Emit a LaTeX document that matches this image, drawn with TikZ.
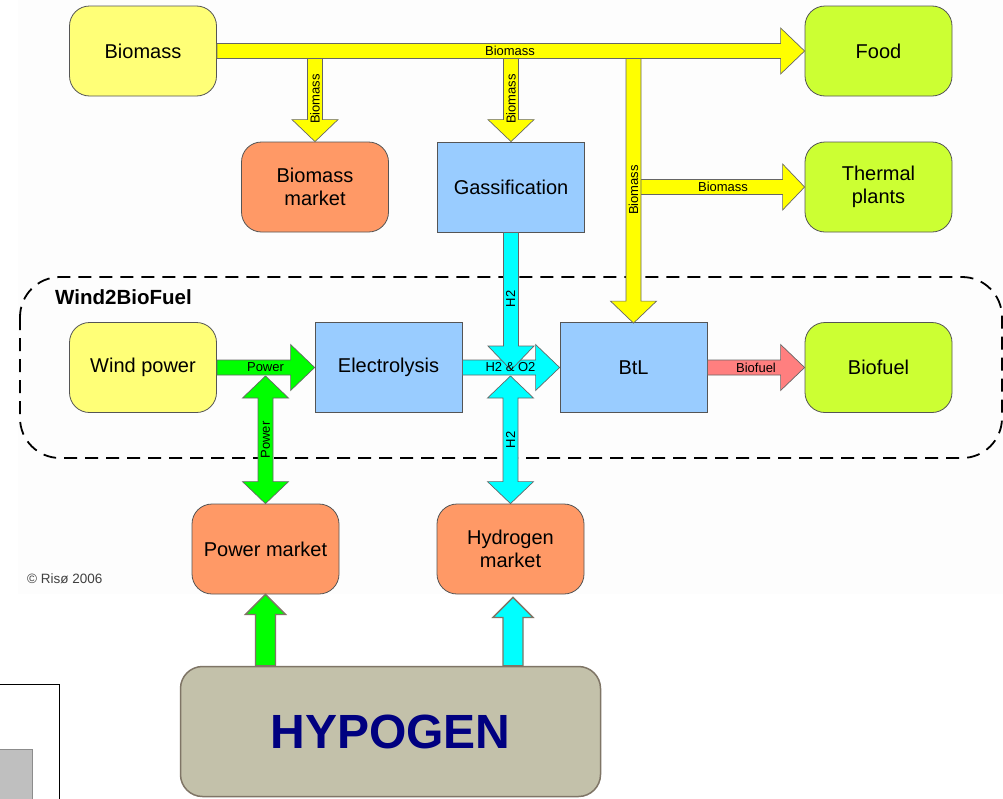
\documentclass[tikz,border=0pt]{standalone}
\usepackage{fontspec}
\setmainfont{Liberation Sans}
\usetikzlibrary{calc}
\definecolor{boxline}{HTML}{555555}
\definecolor{aline}{HTML}{666666}
\definecolor{yelbox}{HTML}{FFFF77}
\definecolor{limebox}{HTML}{CCFF33}
\definecolor{orgbox}{HTML}{FF9966}
\definecolor{bluebox}{HTML}{99CCFF}
\definecolor{yelarr}{HTML}{FFFF00}
\definecolor{grnarr}{HTML}{00FF00}
\definecolor{cyanarr}{HTML}{00FFFF}
\definecolor{pinkarr}{HTML}{FF7F7F}
\definecolor{hypfill}{HTML}{C3C1AA}
\definecolor{hypline}{HTML}{7F7566}
\definecolor{navy}{HTML}{000080}
\definecolor{bgtint}{HTML}{FDFDFD}
\newcommand\arsw{7.5pt}
\newcommand\arhw{23pt}
\newcommand\arhl{24pt}
\newcommand\barrow[3]{%
  \coordinate (ah) at ($(#3)!\arhl!(#2)$);
  \draw[#1] ($(#2)!\arsw!90:(#3)$) -- ($(ah)!\arsw!90:(#3)$) -- ($(ah)!\arhw!90:(#3)$) -- (#3) -- ($(ah)!\arhw!-90:(#3)$) -- ($(ah)!\arsw!-90:(#3)$) -- ($(#2)!\arsw!-90:(#3)$) -- cycle;}
\newcommand\dbarrow[3]{%
  \coordinate (aa) at ($(#2)!\arhl!(#3)$);
  \coordinate (ab) at ($(#3)!\arhl!(#2)$);
  \draw[#1] (#2) -- ($(aa)!\arhw!90:(#3)$) -- ($(aa)!\arsw!90:(#3)$) -- ($(ab)!\arsw!90:(#3)$) -- ($(ab)!\arhw!90:(#3)$) -- (#3) -- ($(ab)!\arhw!-90:(#3)$) -- ($(ab)!\arsw!-90:(#3)$) -- ($(aa)!\arsw!-90:(#3)$) -- ($(aa)!\arhw!-90:(#3)$) -- cycle;}
\tikzset{
  box/.style={draw=boxline, line width=0.8pt, minimum width=147pt, minimum height=90pt,
    align=center, inner sep=0pt, font=\fontsize{20}{23.5}\selectfont},
  rbox/.style={box, rounded corners=20pt},
  yarr/.style={fill=yelarr, draw=aline, line width=0.7pt},
  garr/.style={fill=grnarr, draw=aline, line width=0.7pt},
  carr/.style={fill=cyanarr, draw=aline, line width=0.7pt},
  parr/.style={fill=pinkarr, draw=aline, line width=0.7pt},
  lbl/.style={inner sep=0pt, font=\fontsize{13}{15}\selectfont},
}
\begin{document}
\begin{tikzpicture}[x=1pt, y=-1pt]
\useasboundingbox (0,0) rectangle (1003,798);
\fill[white] (0,0) rectangle (1003,798);
\fill[bgtint] (18,0) rectangle (1003,594);
% lower-left frame
\draw[black, line width=1pt] (-5,684) rectangle (59.5,805);
\filldraw[fill=black!25, draw=black!45, line width=0.8pt] (-5,749) rectangle (32,805);
% Wind2BioFuel region
\draw[line width=1.8pt, dash pattern=on 13pt off 8pt, rounded corners=40pt] (20,277) rectangle (1002,458);
\node[anchor=west, inner sep=0pt, font=\fontsize{20.5}{22}\selectfont\bfseries] (w2b) at (55,297) {Wind2BioFuel};
% boxes
\node[rbox, fill=yelbox] (bio) at (143,51) {Biomass};
\node[rbox, fill=limebox] (food) at (878.5,51) {Food};
\node[rbox, fill=orgbox] (bmarket) at (315,187) {Biomass\\market};
\node[box, fill=bluebox] (gas) at (511,187) {Gassification};
\node[rbox, fill=limebox] (thermal) at (878.5,187) {Thermal\\plants};
\node[rbox, fill=yelbox] (wind) at (143,367.5) {Wind power};
\node[box, fill=bluebox] (elec) at (388.5,367.5) {Electrolysis};
\node[box, fill=bluebox] (btl) at (633.5,367.5) {BtL};
\node[rbox, fill=limebox] (biofuel) at (878.5,367.5) {Biofuel};
\node[rbox, fill=orgbox] (pmarket) at (265.5,549) {Power market};
\node[rbox, fill=orgbox] (hmarket) at (510.5,549) {Hydrogen\\market};
\node[draw=hypline, line width=1.5pt, fill=hypfill, rounded corners=22pt, minimum width=420pt, minimum height=130pt,
  text=navy, font=\fontsize{48}{50}\selectfont\bfseries] (hyp) at (390.5,731.5) {HYPOGEN};
% copyright
\node[anchor=west, inner sep=0pt, text=black!75, font=\fontsize{13.5}{15}\selectfont] (copy) at (27,579) {© Risø 2006};
% biomass distribution
\coordinate (jm) at (bmarket.north |- bio.east);
\coordinate (jg) at (gas.north |- bio.east);
\coordinate (jb) at (btl.north |- bio.east);
\coordinate (jt) at (btl.north |- thermal.west);
\coordinate (jbe) at ($(btl.north)+(0,1)$);
\renewcommand\arhl{22pt}
\barrow{yarr}{jt}{thermal.west}
\barrow{yarr}{jb}{jbe}
\barrow{yarr}{jm}{bmarket.north}
\barrow{yarr}{jg}{gas.north}
\renewcommand\arhl{24pt}
\barrow{yarr}{bio.east}{food.west}
% power
\coordinate (pj) at (265.5,376);
\barrow{garr}{wind.east}{elec.west}
\renewcommand\arhl{22pt}
\dbarrow{garr}{pj}{pmarket.north}
% hydrogen
\renewcommand\arhl{24pt}
\barrow{carr}{elec.east}{btl.west}
\coordinate (hj1) at (511,370);
\coordinate (hj2) at (510.5,376);
\renewcommand\arhl{24pt}
\barrow{carr}{gas.south}{hj1}
\renewcommand\arhl{22pt}
\dbarrow{carr}{hj2}{hmarket.north}
% biofuel
\renewcommand\arhl{24pt}
\barrow{parr}{btl.east}{biofuel.west}
% HYPOGEN supplies
\renewcommand\arsw{10pt}
\renewcommand\arhw{20pt}
\renewcommand\arhl{20pt}
\coordinate (hps) at (pmarket.south |- hyp.north);
\barrow{fill=grnarr, draw=hypline, line width=1.3pt}{hps}{pmarket.south}
\coordinate (hhs) at ($(hmarket.south |- hyp.north)+(2.5,0)$);
\coordinate (hhe) at ($(hmarket.south)+(2.5,3)$);
\barrow{fill=cyanarr, draw=hypline, line width=1.3pt}{hhs}{hhe}
% labels
\node[lbl] (l1) at (510,50.5) {Biomass};
\node[lbl, rotate=90] (l2) at (315,99) {Biomass};
\node[lbl, rotate=90] (l3) at (511,99) {Biomass};
\node[lbl, rotate=90] (l4) at (633.5,190) {Biomass};
\node[lbl] (l5) at (723,186.5) {Biomass};
\node[lbl] (l6) at (265.5,367.5) {Power};
\node[lbl, rotate=90] (l7) at (265.5,440) {Power};
\node[lbl, rotate=90] (l8) at (510.5,299) {H2};
\node[lbl] (l9) at (510.5,367.5) {H2 \& O2};
\node[lbl, rotate=90] (l10) at (510.5,440) {H2};
\node[lbl] (l11) at (756,367.5) {Biofuel};
\end{tikzpicture}
\end{document}
